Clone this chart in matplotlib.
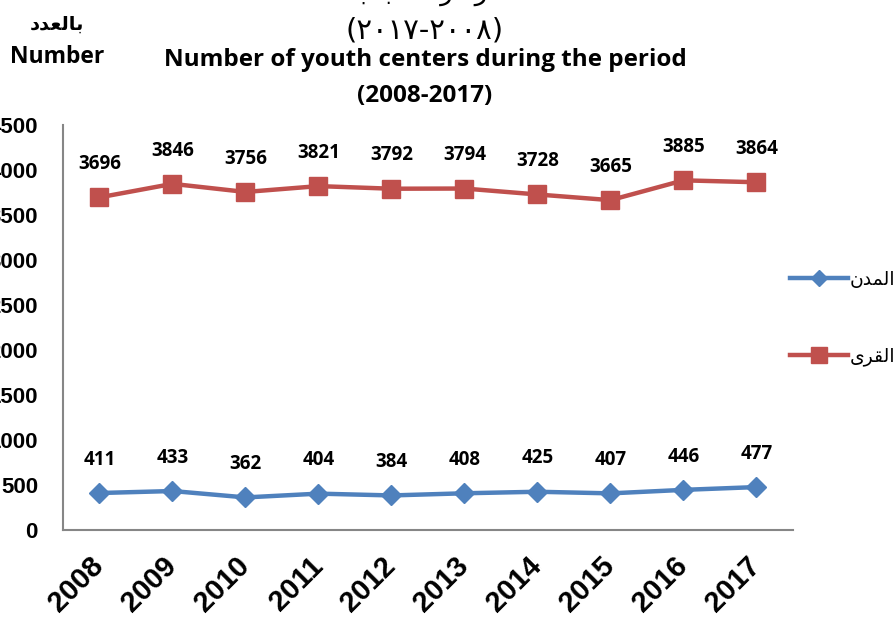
import matplotlib
matplotlib.use("Agg")
import matplotlib.pyplot as plt

years = ["2008", "2009", "2010", "2011", "2012", "2013", "2014", "2015", "2016", "2017"]
cities = [411, 433, 362, 404, 384, 408, 425, 407, 446, 477]
villages = [3696, 3846, 3756, 3821, 3792, 3794, 3728, 3665, 3885, 3864]
yticks = [0, 500, 1000, 1500, 2000, 2500, 3000, 3500, 4000, 4500]

# Arabic in visual (pre-shaped) order
lbl_cities = "\uFEE5\uFEAA\uFEE4\uFEDF\uFE8D"        # المدن
lbl_villages = "\uFEEF\uFEAE\uFED8\uFEDF\uFE8D"      # القرى
lbl_number_ar = "\uFEA9\uFEAA\uFECC\uFEDF\uFE8E\uFE91"  # بالعدد
title_ar1 = "\uFE8F\uFE8E\uFE92\uFEB8\uFEDF\uFE8D \uFEB0\uFEDB\uFE8D\uFEAE\uFEE3"  # مراكز الشباب
title_ar2 = "(\u0662\u0660\u0661\u0667-\u0662\u0660\u0660\u0668)"

W, H = 895, 620
fig = plt.figure(figsize=(W / 100, H / 100), dpi=100)
ax = fig.add_axes([63 / W, 1 - 530 / H, (793 - 63) / W, (530 - 125) / H])

x = list(range(len(years)))
blue = "#4F81BD"
red = "#C0504D"
l1, = ax.plot(x, cities, color=blue, lw=3.2, marker="D", ms=10, label=lbl_cities, zorder=3)
l2, = ax.plot(x, villages, color=red, lw=3.2, marker="s", ms=13.5, label=lbl_villages, zorder=3)

lab_font = dict(family=["Open Sans", "DejaVu Sans"], weight="bold", fontsize=13.5)
for xi, v in zip(x, cities):
    ax.annotate(str(v), (xi, v), xytext=(0, 24), textcoords="offset points",
                ha="center", va="center", **lab_font)
for xi, v in zip(x, villages):
    ax.annotate(str(v), (xi, v), xytext=(0, 24), textcoords="offset points",
                ha="center", va="center", **lab_font)

ax.set_xlim(-0.5, len(years) - 0.5)
ax.set_ylim(0, 4500)
ax.set_yticks(yticks)
ax.set_yticklabels([str(t) for t in yticks], fontsize=16, fontweight="bold",
                   family="Liberation Sans")
ax.set_xticks(x)
ax.set_xticklabels(years, rotation=45, ha="right", va="center", rotation_mode="anchor",
                   fontsize=21, fontweight="bold", family="Liberation Sans")
ax.tick_params(axis="y", length=0, pad=18)
ax.tick_params(axis="x", length=0, pad=23)
for s in ["top", "right"]:
    ax.spines[s].set_visible(False)
for s in ["left", "bottom"]:
    ax.spines[s].set_color("#868686")
    ax.spines[s].set_linewidth(1.5)

fig.legend(handles=[l1, l2], loc="center left", bbox_to_anchor=(781 / W, 1 - 318 / H),
           frameon=False, prop=dict(family="DejaVu Sans", size=13.5),
           handlelength=3.1, handletextpad=0.05, labelspacing=3.1, borderpad=0,
           markerscale=0.85)

cx = 425 / W
fig.text(428 / W, 1 - (-7) / H, title_ar1, ha="center", va="center", fontsize=19,
         family="DejaVu Sans")
fig.text(cx, 1 - 30 / H, title_ar2, ha="center", va="center", fontsize=21,
         family="DejaVu Sans")
fig.text(cx, 1 - 60 / H, "Number of youth centers during the period", ha="center",
         va="center", fontsize=17.5, fontweight="bold", family="Open Sans")
fig.text(cx, 1 - 96 / H, "(2008-2017)", ha="center", va="center", fontsize=17.5,
         fontweight="bold", family="Open Sans")
fig.text(57 / W, 1 - 24 / H, lbl_number_ar, ha="center", va="center", fontsize=14,
         fontweight="bold", family="DejaVu Sans")
fig.text(57 / W, 1 - 57 / H, "Number", ha="center", va="center", fontsize=16.5,
         fontweight="bold", family="Open Sans")

fig.savefig("out.png", dpi=100)
